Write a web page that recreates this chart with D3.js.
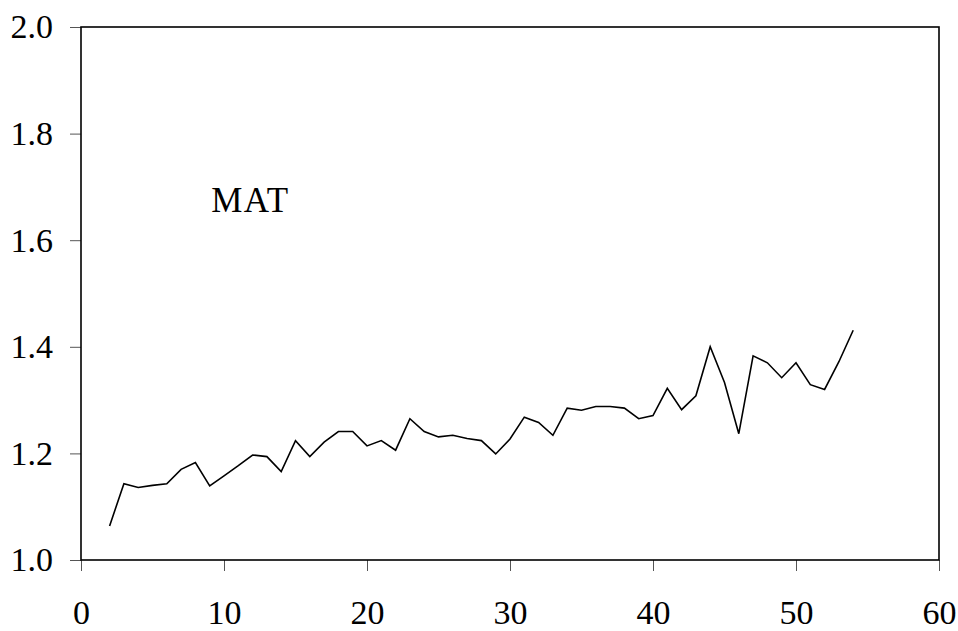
<!DOCTYPE html>
<html>
<head>
<meta charset="utf-8" />
<script src="https://d3js.org/d3.v7.min.js"></script>
<style>
  body { margin: 0; background: #fff; }
  text { font-family: "Liberation Serif", "DejaVu Serif", serif; fill: #000; }
</style>
</head>
<body>
<svg id="chart"></svg>
<script>
// data
var xs = [2,3,4,5,6,7,8,9,10,11,12,13,14,15,16,17,18,19,20,21,22,23,24,25,26,27,28,
          29,30,31,32,33,34,35,36,37,38,39,40,41,42,43,44,45,46,47,48,49,50,51,52,53,54];
var mat = [1.064,1.143,1.136,1.140,1.143,1.170,1.183,1.139,1.158,1.177,1.197,1.194,1.166,
           1.224,1.194,1.221,1.241,1.241,1.214,1.224,1.206,1.265,1.241,1.231,1.234,1.228,
           1.224,1.199,1.227,1.268,1.258,1.234,1.285,1.281,1.288,1.288,1.285,1.265,1.271,
           1.322,1.282,1.308,1.400,1.333,1.237,1.383,1.370,1.342,1.370,1.329,1.320,1.372,1.431];
var xTicks = [0,10,20,30,40,50,60];
var yTicks = [1.0,1.2,1.4,1.6,1.8,2.0];
var seriesLabel = "MAT";

var width = 958, height = 631;
var margin = {top: 27, right: 19, bottom: 71, left: 81};

var svg = d3.select("#chart").attr("width", width).attr("height", height);

var x = d3.scaleLinear().domain([0, 60]).range([margin.left, width - margin.right]);
var y = d3.scaleLinear().domain([1.0, 2.0]).range([height - margin.bottom, margin.top]);

// x axis
var xAxis = svg.append("g")
  .attr("transform", "translate(0," + (height - margin.bottom) + ")")
  .call(d3.axisBottom(x).tickValues(xTicks).tickFormat(d3.format("d")).tickSize(11).tickPadding(29));
xAxis.select(".domain").remove();
xAxis.selectAll(".tick line").attr("stroke", "#555").attr("stroke-width", 1);
xAxis.selectAll(".tick text").style("font-size", "34px");

// y axis
var yAxis = svg.append("g")
  .attr("transform", "translate(" + margin.left + ",0)")
  .call(d3.axisLeft(y).tickValues(yTicks).tickFormat(d3.format(".1f")).tickSize(11).tickPadding(17));
yAxis.select(".domain").remove();
yAxis.selectAll(".tick line").attr("stroke", "#555").attr("stroke-width", 1);
yAxis.selectAll(".tick text").style("font-size", "34px");

// frame
svg.append("rect")
  .attr("x", x(0)).attr("y", y(2.0))
  .attr("width", x(60) - x(0)).attr("height", y(1.0) - y(2.0))
  .attr("fill", "none").attr("stroke", "#000").attr("stroke-width", 1.6);

// series
var line = d3.line()
  .x(function(d, i) { return x(xs[i]); })
  .y(function(d) { return y(d); });

svg.append("path")
  .datum(mat)
  .attr("d", line)
  .attr("fill", "none")
  .attr("stroke", "#000")
  .attr("stroke-width", 1.6)
  .attr("stroke-linejoin", "miter");

svg.append("text")
  .attr("x", x(9.1))
  .attr("y", y(1.652))
  .style("font-size", "35px")
  .style("letter-spacing", "1.5px")
  .text(seriesLabel);
</script>
</body>
</html>
